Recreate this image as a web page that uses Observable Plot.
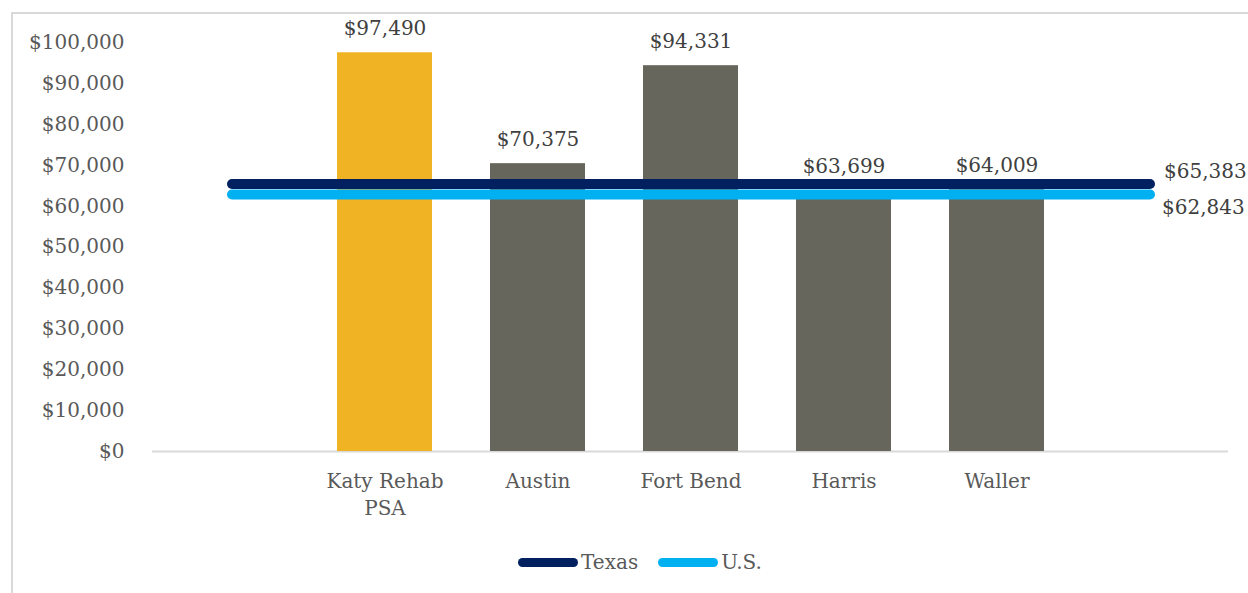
<!DOCTYPE html>
<html>
<head>
<meta charset="utf-8">
<script src="https://cdn.jsdelivr.net/npm/d3@7"></script>
<script src="https://cdn.jsdelivr.net/npm/@observablehq/plot@0.6"></script>
<style>
  html, body { margin: 0; padding: 0; background: #fff; }
  body { width: 1248px; height: 593px; overflow: hidden; position: relative; font-family: "DejaVu Serif", serif; }
  #frame { position: absolute; left: 11px; top: 12px; width: 1400px; height: 800px; border: 2px solid #d9d9d9; box-sizing: border-box; }
  #chart { position: absolute; left: 0; top: 0; }
  #legend { position: absolute; left: 16px; top: 550px; width: 1248px; display: flex; justify-content: center; align-items: center; gap: 20px; font-size: 20px; color: #595959; }
  .item { display: flex; align-items: center; }
  .sw { width: 60px; height: 9px; border-radius: 5px; margin-right: 3px; }
</style>
</head>
<body>
<div id="frame"></div>
<div id="chart"></div>
<div id="legend"></div>
<script>
// Data
const categories = ["Katy Rehab\nPSA", "Austin", "Fort Bend", "Harris", "Waller"];
const medianIncome = [97490, 70375, 94331, 63699, 64009];
const barColors = ["#F0B323", "#66665C", "#66665C", "#66665C", "#66665C"];
const benchmarkNames = ["Texas", "U.S."];
const benchmarkValues = [65383, 62843];
const benchmarkColors = ["#002060", "#00B0F0"];
const yTicks = [0, 10000, 20000, 30000, 40000, 50000, 60000, 70000, 80000, 90000, 100000];

const START = "_start", END = "_end";
const domain = [START, ...categories, END];
const fmt = d => "$" + d3.format(",")(d);

const bars = categories.map((c, i) => ({cat: c, value: medianIncome[i], color: barColors[i]}));
const lines = benchmarkNames.flatMap((n, i) => [
  {name: n, x: START, value: benchmarkValues[i]},
  {name: n, x: END, value: benchmarkValues[i]}
]);
const texasLabel = [{x: END, value: benchmarkValues[0]}];
const usLabel = [{x: END, value: benchmarkValues[1]}];

const chart = Plot.plot({
  width: 1248,
  height: 530,
  marginLeft: 152,
  marginRight: 20,
  marginTop: 42,
  marginBottom: 79,
  style: {fontFamily: "'DejaVu Serif', serif", fontSize: "20px", color: "#595959", background: "transparent", overflow: "visible"},
  x: {type: "band", domain, padding: 0},
  y: {domain: [0, 100000]},
  marks: [
    Plot.ruleY([0], {stroke: "#d9d9d9", strokeWidth: 2}),
    Plot.axisY({ticks: yTicks, tickFormat: fmt, tickSize: 0, tickPadding: 28, fontSize: 20, label: null, fill: "#595959"}),
    Plot.axisX({tickSize: 0, tickPadding: 17, fontSize: 20, lineHeight: 1.35, label: null, fill: "#595959",
      tickFormat: d => (d === START || d === END) ? "" : d}),
    Plot.barY(bars, {x: "cat", y: "value", fill: "color", insetLeft: 29, insetRight: 29}),
    Plot.text(bars, {x: "cat", y: "value", text: d => fmt(d.value), dy: -24, fontSize: 20, fill: "#404040"}),
    Plot.lineY(lines, {x: "x", y: "value", z: "name", stroke: d => benchmarkColors[benchmarkNames.indexOf(d.name)], strokeWidth: 10, strokeLinecap: "round"}),
    Plot.text(texasLabel, {x: "x", y: "value", text: d => fmt(d.value), textAnchor: "start", dx: 14, dy: -12, fontSize: 20, fill: "#404040"}),
    Plot.text(usLabel, {x: "x", y: "value", text: d => fmt(d.value), textAnchor: "start", dx: 12, dy: 13, fontSize: 20, fill: "#404040"})
  ]
});
document.getElementById("chart").appendChild(chart);

const legend = document.getElementById("legend");
benchmarkNames.forEach((n, i) => {
  const it = document.createElement("div");
  it.className = "item";
  const sw = document.createElement("div");
  sw.className = "sw";
  sw.style.background = benchmarkColors[i];
  const t = document.createElement("span");
  t.textContent = n;
  it.appendChild(sw); it.appendChild(t);
  legend.appendChild(it);
});
</script>
</body>
</html>
